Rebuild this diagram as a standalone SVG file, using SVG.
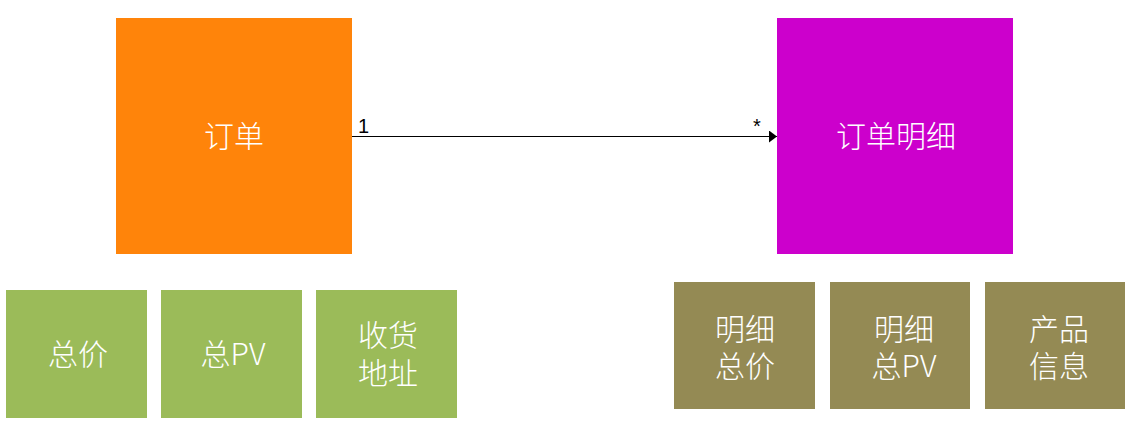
<svg xmlns="http://www.w3.org/2000/svg" width="1144" height="422" viewBox="0 0 1144 422">
<defs>
<style>
.t{font-family:"Noto Sans CJK SC","Noto Sans",sans-serif;font-weight:300;font-size:30px;fill:#fff;text-anchor:middle;dominant-baseline:central}
.lbl{font-family:"Liberation Sans","DejaVu Sans",sans-serif;font-size:20px;fill:#000}
.g{fill:#9BBB59}
.o{fill:#948A54}
</style>
<marker id="arr" markerWidth="10" markerHeight="12" refX="8" refY="6" orient="auto" markerUnits="userSpaceOnUse">
<path d="M0,0 L8,6 L0,12 Z" fill="#000"/>
</marker>
</defs>
<rect width="1144" height="422" fill="#fff"/>
<g id="order"><rect x="116" y="18" width="236" height="236" fill="#FF840A"/><text class="t" x="234" y="134">订单</text></g>
<g id="detail"><rect x="777" y="18" width="236" height="236" fill="#CC00CC"/><text class="t" x="896" y="134">订单明细</text></g>
<g id="total"><rect class="g" x="6" y="290" width="141" height="128"/><text class="t" x="78" y="352">总价</text></g>
<g id="totalpv"><rect class="g" x="161" y="290" width="141" height="128"/><text class="t" x="233" y="352">总PV</text></g>
<g id="address"><rect class="g" x="316" y="290" width="141" height="128"/><text class="t" x="388" y="333">收货<tspan x="388" dy="38">地址</tspan></text></g>
<g id="dtotal"><rect class="o" x="674" y="282" width="141" height="127"/><text class="t" x="745" y="327">明细<tspan x="745" dy="37">总价</tspan></text></g>
<g id="dtotalpv"><rect class="o" x="830" y="282" width="140" height="127"/><text class="t" x="904" y="327">明细<tspan x="904" dy="37">总PV</tspan></text></g>
<g id="product"><rect class="o" x="985" y="282" width="140" height="127"/><text class="t" x="1059" y="327">产品<tspan x="1059" dy="37">信息</tspan></text></g>
<g id="connectors">
<line x1="352" y1="136.5" x2="777" y2="136.5" stroke="#000" stroke-width="1" marker-end="url(#arr)"/>
<text class="lbl" x="358" y="133">1</text>
<text class="lbl" x="753" y="133">*</text>
</g>
</svg>
